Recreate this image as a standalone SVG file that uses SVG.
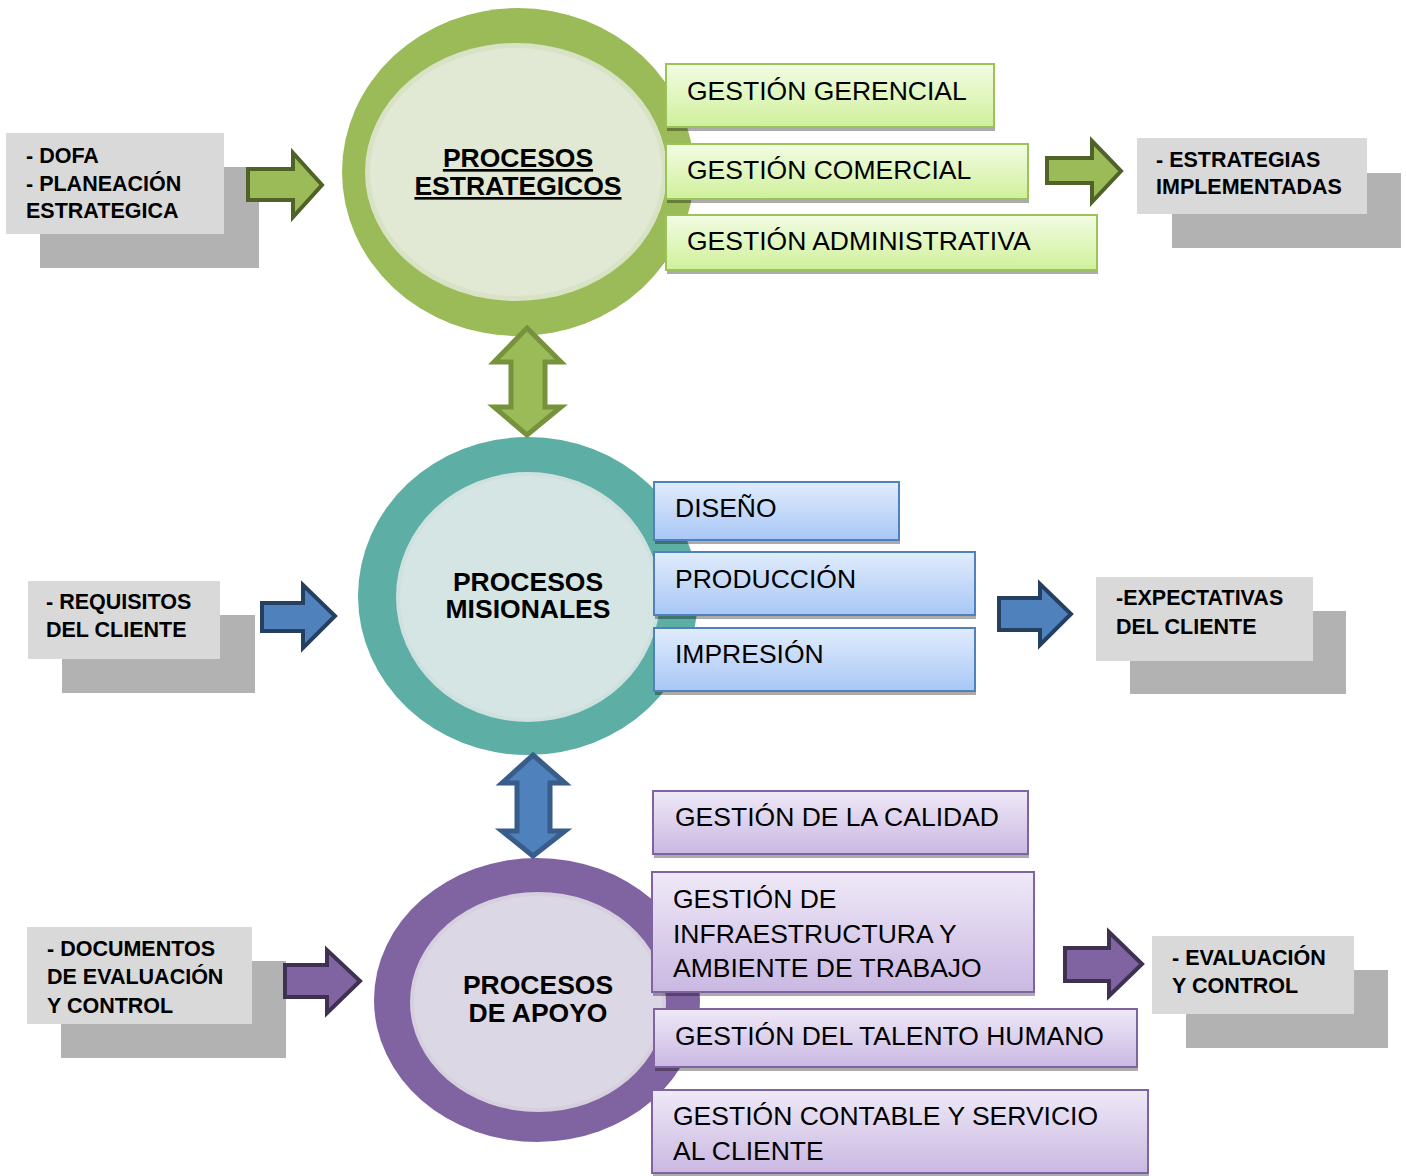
<svg xmlns="http://www.w3.org/2000/svg" width="1406" height="1176" viewBox="0 0 1406 1176">
<defs>
<linearGradient id="gG" x1="0" y1="0" x2="0" y2="1"><stop offset="0" stop-color="#f2fce3"/><stop offset="1" stop-color="#d0f09b"/></linearGradient>
<linearGradient id="gB" x1="0" y1="0" x2="0" y2="1"><stop offset="0" stop-color="#e1ecfc"/><stop offset="1" stop-color="#a8c7f6"/></linearGradient>
<linearGradient id="gP" x1="0" y1="0" x2="0" y2="1"><stop offset="0" stop-color="#efe9f7"/><stop offset="1" stop-color="#cab8e2"/></linearGradient>
</defs>
<style>
.lt{fill:#d9d9d9}
.dk{fill:#b2b2b2}
.gt{font-family:"Liberation Sans",Arial,sans-serif;font-weight:bold;font-size:21.5px;fill:#000}
.bx{font-family:"Liberation Sans",Arial,sans-serif;font-size:26.5px;fill:#000}
.ct{font-family:"Liberation Sans",Arial,sans-serif;font-weight:bold;font-size:26.5px;fill:#000;text-anchor:middle}
.sh{fill:#000;opacity:0.33}
.bg{fill:url(#gG);stroke:#9bc35a;stroke-width:2}
.bb{fill:url(#gB);stroke:#4f81bd;stroke-width:2}
.bp{fill:url(#gP);stroke:#8064a2;stroke-width:2}
.ag{fill:#9bbb59;stroke:#4f6228;stroke-width:4;stroke-linejoin:miter}
.ab{fill:#4f81bd;stroke:#243f60;stroke-width:4;stroke-linejoin:miter}
.ap{fill:#8064a2;stroke:#3f3151;stroke-width:4;stroke-linejoin:miter}
</style>

<g id="circle-estrategicos">
<ellipse cx="518" cy="172" rx="176" ry="164" fill="#9bbb59"/>
<ellipse cx="516" cy="172" rx="151" ry="129" fill="#d8e3c5"/>
<ellipse cx="516" cy="172" rx="146" ry="124" fill="#e1e8d4"/>
<text class="ct" x="518" y="167" text-decoration="underline">PROCESOS</text>
<text class="ct" x="518" y="195" text-decoration="underline">ESTRATEGICOS</text>
</g>

<g id="circle-misionales">
<ellipse cx="528" cy="596" rx="170" ry="159" fill="#5daea4"/>
<ellipse cx="528" cy="597" rx="132" ry="125" fill="#cfe1df"/>
<ellipse cx="528" cy="597" rx="128" ry="121" fill="#d5e5e3"/>
<text class="ct" x="528" y="591">PROCESOS</text>
<text class="ct" x="528" y="618">MISIONALES</text>
</g>

<g id="circle-apoyo">
<ellipse cx="537" cy="1000" rx="163" ry="142" fill="#8064a2"/>
<ellipse cx="538" cy="1002" rx="128" ry="110" fill="#d6d0de"/>
<ellipse cx="538" cy="1002" rx="124" ry="106" fill="#dcd7e4"/>
<text class="ct" x="538" y="994">PROCESOS</text>
<text class="ct" x="538" y="1022">DE APOYO</text>
</g>

<g id="box-gerencial">
<rect class="sh" x="667" y="68" width="328" height="63"/>
<rect class="bg" x="666" y="64" width="328" height="63"/>
<text class="bx" x="687" y="100">GESTIÓN GERENCIAL</text>
</g>
<g id="box-comercial">
<rect class="sh" x="667" y="148" width="362" height="55"/>
<rect class="bg" x="666" y="144" width="362" height="55"/>
<text class="bx" x="687" y="179">GESTIÓN COMERCIAL</text>
</g>
<g id="box-administrativa">
<rect class="sh" x="667" y="219" width="431" height="55"/>
<rect class="bg" x="666" y="215" width="431" height="55"/>
<text class="bx" x="687" y="250">GESTIÓN ADMINISTRATIVA</text>
</g>

<g id="box-diseno">
<rect class="sh" x="655" y="486" width="245" height="58"/>
<rect class="bb" x="654" y="482" width="245" height="58"/>
<text class="bx" x="675" y="517">DISEÑO</text>
</g>
<g id="box-produccion">
<rect class="sh" x="655" y="556" width="321" height="63"/>
<rect class="bb" x="654" y="552" width="321" height="63"/>
<text class="bx" x="675" y="588">PRODUCCIÓN</text>
</g>
<g id="box-impresion">
<rect class="sh" x="655" y="632" width="321" height="63"/>
<rect class="bb" x="654" y="628" width="321" height="63"/>
<text class="bx" x="675" y="663">IMPRESIÓN</text>
</g>

<g id="box-calidad">
<rect class="sh" x="654" y="795" width="375" height="63"/>
<rect class="bp" x="653" y="791" width="375" height="63"/>
<text class="bx" x="675" y="826">GESTIÓN DE LA CALIDAD</text>
</g>
<g id="box-infraestructura">
<rect class="sh" x="653" y="876" width="382" height="120"/>
<rect class="bp" x="652" y="872" width="382" height="120"/>
<text class="bx" x="673" y="908">GESTIÓN DE</text>
<text class="bx" x="673" y="943">INFRAESTRUCTURA Y</text>
<text class="bx" x="673" y="977">AMBIENTE DE TRABAJO</text>
</g>
<g id="box-talento">
<rect class="sh" x="655" y="1013" width="483" height="58"/>
<rect class="bp" x="654" y="1009" width="483" height="58"/>
<text class="bx" x="675" y="1045">GESTIÓN DEL TALENTO HUMANO</text>
</g>
<g id="box-contable">
<rect class="sh" x="653" y="1094" width="496" height="83"/>
<rect class="bp" x="652" y="1090" width="496" height="83"/>
<text class="bx" x="673" y="1125">GESTIÓN CONTABLE Y SERVICIO</text>
<text class="bx" x="673" y="1160">AL CLIENTE</text>
</g>

<g id="in-dofa">
<rect class="dk" x="40" y="167" width="219" height="101"/>
<rect class="lt" x="6" y="133" width="218" height="101"/>
<text class="gt" x="26" y="163">- DOFA</text>
<text class="gt" x="26" y="191">- PLANEACIÓN</text>
<text class="gt" x="26" y="218">ESTRATEGICA</text>
</g>
<g id="out-estrategias">
<rect class="dk" x="1172" y="173" width="229" height="75"/>
<rect class="lt" x="1137" y="138" width="230" height="76"/>
<text class="gt" x="1156" y="167">- ESTRATEGIAS</text>
<text class="gt" x="1156" y="194">IMPLEMENTADAS</text>
</g>
<g id="in-requisitos">
<rect class="dk" x="62" y="615" width="193" height="78"/>
<rect class="lt" x="28" y="581" width="192" height="78"/>
<text class="gt" x="46" y="609">- REQUISITOS</text>
<text class="gt" x="46" y="637">DEL CLIENTE</text>
</g>
<g id="out-expectativas">
<rect class="dk" x="1130" y="611" width="216" height="83"/>
<rect class="lt" x="1096" y="577" width="217" height="84"/>
<text class="gt" x="1116" y="605">-EXPECTATIVAS</text>
<text class="gt" x="1116" y="634">DEL CLIENTE</text>
</g>
<g id="in-documentos">
<rect class="dk" x="61" y="961" width="225" height="97"/>
<rect class="lt" x="27" y="927" width="225" height="97"/>
<text class="gt" x="47" y="956">- DOCUMENTOS</text>
<text class="gt" x="47" y="984">DE EVALUACIÓN</text>
<text class="gt" x="47" y="1013">Y CONTROL</text>
</g>
<g id="out-evaluacion">
<rect class="dk" x="1186" y="970" width="202" height="78"/>
<rect class="lt" x="1152" y="936" width="202" height="78"/>
<text class="gt" x="1172" y="965">- EVALUACIÓN</text>
<text class="gt" x="1172" y="993">Y CONTROL</text>
</g>

<g id="connectors">
<path class="ag" d="M248,169 L293,169 L293,153 L322,185 L293,217 L293,200 L248,200 Z"/>
<path class="ag" d="M1047,158 L1092,158 L1092,141 L1121,171 L1092,202 L1092,183 L1047,183 Z"/>
<path class="ab" d="M262,603 L303,603 L303,585 L335,616 L303,648 L303,631 L262,631 Z"/>
<path class="ab" d="M999,598 L1040,598 L1040,584 L1071,614 L1040,645 L1040,630 L999,630 Z"/>
<path class="ap" d="M285,965 L327,965 L327,950 L360,981 L327,1013 L327,997 L285,997 Z"/>
<path class="ap" d="M1065,948 L1109,948 L1109,932 L1142,964 L1109,996 L1109,981 L1065,981 Z"/>
<path fill="#9bbb59" stroke="#76923c" stroke-width="5" d="M527,328 L561,362 L545,362 L545,407 L561,407 L527,435 L494,407 L511,407 L511,362 L494,362 Z"/>
<path fill="#4f81bd" stroke="#385d8a" stroke-width="5" d="M533,755 L565,783 L550,783 L550,831 L565,831 L533,856 L502,831 L517,831 L517,783 L502,783 Z"/>
</g>
</svg>
